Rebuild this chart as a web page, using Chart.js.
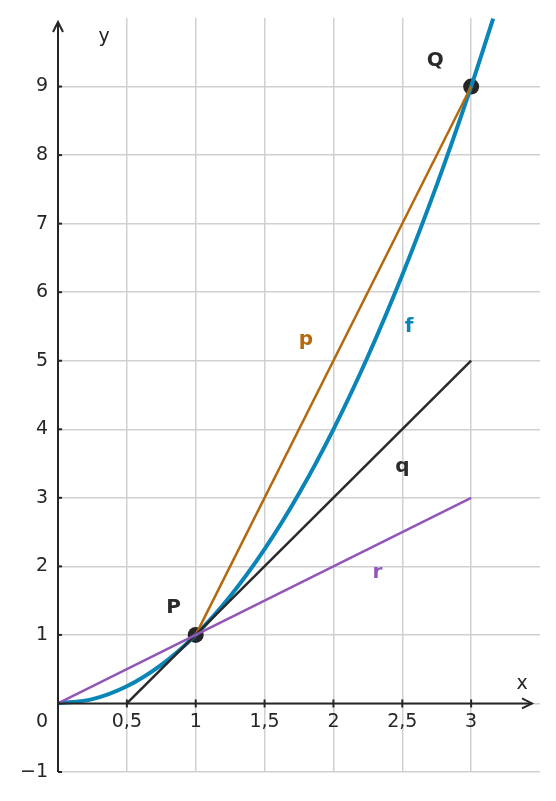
<!DOCTYPE html>
<html><head><meta charset="utf-8">
<script src="https://cdn.jsdelivr.net/npm/chart.js@4"></script>
<style>html,body{margin:0;padding:0;background:#fff}</style>
</head><body>
<div style="width:556px;height:801px"><canvas id="c"></canvas></div>
<script>
const fX = [0,0.25,0.5,0.75,1,1.25,1.5,1.75,2,2.25,2.5,2.75,3,3.16];
const fY = [0,0.0625,0.25,0.5625,1,1.5625,2.25,3.0625,4,5.0625,6.25,7.5625,9,9.99];
const pX = [1,3], pY = [1,9];
const qX = [0.5,3], qY = [0,5];
const rX = [0,3], rY = [0,3];
const ptsX = [1,3], ptsY = [1,9];
const xTicks = [0.5,1,1.5,2,2.5,3], xTickLabels = ['0,5','1','1,5','2','2,5','3'];
const yTicks = [-1,1,2,3,4,5,6,7,8,9], yTickLabels = ['−1','1','2','3','4','5','6','7','8','9'];
const labels = [
 {t:'P',x:0.84,y:1.4,c:'#2a2a2a'},{t:'Q',x:2.74,y:9.38,c:'#2a2a2a'},
 {t:'p',x:1.8,y:5.3,c:'#b5690d'},{t:'f',x:2.55,y:5.5,c:'#0a85b8'},
 {t:'q',x:2.5,y:3.45,c:'#2a2a2a'},{t:'r',x:2.32,y:1.9,c:'#9256b8'}];
const mk=(xs,ys)=>xs.map((x,i)=>({x,y:ys[i]}));
const FONT='DejaVu Sans';
const axesPlugin={id:'ax',afterDatasetsDraw(ch){
 const c=ch.ctx,xs=ch.scales.x,ys=ch.scales.y;
 const x0=xs.getPixelForValue(0),y0=ys.getPixelForValue(0);
 c.save();c.strokeStyle='#262626';c.fillStyle='#262626';c.lineWidth=2;
 c.beginPath();c.moveTo(x0,ys.getPixelForValue(-1));c.lineTo(x0,22);c.stroke();
 c.beginPath();c.moveTo(x0-5,32);c.lineTo(x0,22);c.lineTo(x0+5,32);c.stroke();
 c.beginPath();c.moveTo(x0,y0);c.lineTo(532,y0);c.stroke();
 c.beginPath();c.moveTo(522,y0-5);c.lineTo(532,y0);c.lineTo(522,y0+5);c.stroke();
 c.font='19px '+FONT;c.textBaseline='middle';
 xTicks.forEach((v,i)=>{const p=xs.getPixelForValue(v);c.beginPath();c.moveTo(p,y0-4);c.lineTo(p,y0+4);c.stroke();
  c.textAlign='center';c.fillText(xTickLabels[i],p,y0+19);});
 yTicks.forEach((v,i)=>{const p=ys.getPixelForValue(v);c.beginPath();c.moveTo(x0,p);c.lineTo(x0+4,p);c.stroke();
  c.textAlign='right';c.fillText(yTickLabels[i],x0-10,p);});
 c.textAlign='right';c.fillText('0',x0-10,y0+19);
 c.textAlign='center';c.fillText('x',522,684);c.fillText('y',104,37);
 c.font='bold 20px '+FONT;
 labels.forEach(l=>{c.fillStyle=l.c;c.fillText(l.t,xs.getPixelForValue(l.x),ys.getPixelForValue(l.y));});
 c.restore();}};
new Chart(document.getElementById('c'),{type:'scatter',
 data:{datasets:[
  {data:mk(rX,rY),showLine:true,borderColor:'#9256b8',borderWidth:2.5,pointRadius:0},
  {data:mk(qX,qY),showLine:true,borderColor:'#2a2a2a',borderWidth:2.5,pointRadius:0},
  {data:mk(pX,pY),showLine:true,borderColor:'#b5690d',borderWidth:2.5,pointRadius:0},
  {data:mk(fX,fY),showLine:true,borderColor:'#0a85b8',borderWidth:4,pointRadius:0,tension:0.4,cubicInterpolationMode:'monotone'},
  {data:mk(ptsX,ptsY),pointRadius:8,pointBackgroundColor:'#262626',pointBorderWidth:0}]},
 options:{responsive:true,maintainAspectRatio:false,animation:false,clip:false,
  layout:{padding:{left:58,right:16,top:18,bottom:29}},
  plugins:{legend:{display:false},tooltip:{enabled:false}},
  scales:{
   x:{type:'linear',min:0,max:3.5,ticks:{display:false,stepSize:0.5},border:{display:false},
      grid:{drawTicks:false,lineWidth:1.5,color:c=>(c.tick&&(c.tick.value===0||c.tick.value===3.5))?'transparent':'#d0d0d0'}},
   y:{min:-1,max:10,ticks:{display:false,stepSize:1},border:{display:false},
      grid:{drawTicks:false,lineWidth:1.5,color:c=>(c.tick&&c.tick.value===10)?'transparent':'#d0d0d0'}}}},
 plugins:[axesPlugin]});
</script></body></html>
